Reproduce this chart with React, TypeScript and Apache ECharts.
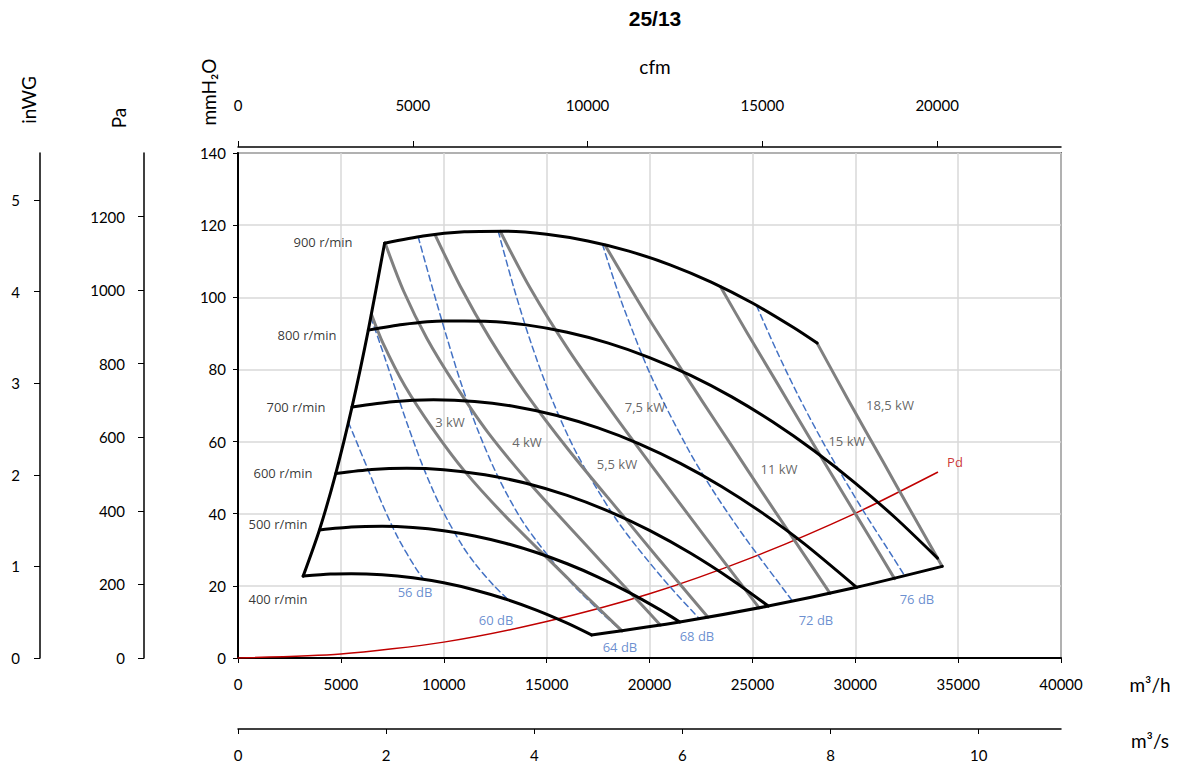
import React, { useEffect, useRef } from "react";
import * as echarts from "echarts";

// ---- unit conversions (axis extents) ----
const Q_MAX = 40000; // m3/h
const P_MAX = 140; // mmH2O
const M3H_PER_CFM = 1.699;
const PA_PER_MMH2O = 9.80665;
const MMH2O_PER_INWG = 25.4;

// ---- tick values ----
const qTicks = [0, 5000, 10000, 15000, 20000, 25000, 30000, 35000, 40000];
const cfmTicks = [0, 5000, 10000, 15000, 20000];
const m3sTicks = [0, 2, 4, 6, 8, 10];
const paTicks = [0, 200, 400, 600, 800, 1000, 1200];
const inwgTicks = [0, 1, 2, 3, 4, 5];

// ---- fan speed curves [m3/h, mmH2O] ----
const n900 = [[7125, 115.0], [9000, 117.0], [11000, 118.14], [13000, 118.29], [15000, 117.45], [17000, 115.6], [19000, 112.8], [21000, 109.0], [23000, 104.2], [25000, 98.4], [27000, 91.6], [28146, 87.3]];
const n800 = [[6333, 90.9], [8000, 92.45], [10000, 93.4], [12000, 93.37], [14000, 92.35], [16000, 90.3], [18000, 87.3], [20000, 83.3], [22000, 78.35], [24000, 72.4], [26000, 65.4], [28000, 57.45], [30000, 48.5], [32000, 38.6], [33996, 27.7]];
const n700 = [[5542, 69.6], [7500, 71.06], [9500, 71.59], [11500, 71.13], [13500, 69.68], [15500, 67.23], [17500, 63.8], [19500, 59.38], [21500, 53.96], [23500, 47.56], [25500, 40.16], [27500, 31.78], [30065, 19.6]];
const n600 = [[4750, 51.13], [6500, 52.24], [8200, 52.6], [10000, 52.2], [12000, 50.8], [14000, 48.44], [16000, 45.07], [18000, 40.71], [20000, 35.36], [22000, 29.02], [24000, 21.7], [25770, 14.4]];
const n500 = [[3958, 35.5], [5500, 36.31], [7000, 36.53], [8500, 36.19], [10000, 35.29], [11500, 33.83], [13000, 31.82], [14500, 29.25], [16000, 26.13], [17500, 22.44], [19000, 18.2], [20500, 13.41], [21475, 10.0]];
const n400 = [[3167, 22.7], [4500, 23.26], [5500, 23.38], [7000, 23.09], [8500, 22.24], [10000, 20.84], [11500, 18.87], [13000, 16.35], [14500, 13.28], [16000, 9.65], [17180, 6.4]];
const leftBoundary = [[3167, 22.7], [3958, 35.5], [4750, 51.13], [5542, 69.6], [6333, 90.9], [7125, 115.0]];
const bottomBoundary = [[17180, 6.4], [21475, 10.0], [25770, 14.4], [30065, 19.6], [34228, 25.4]];

// ---- power lines (kW) ----
const kw3 = [[6484, 95.3], [7046, 87.3], [8113, 75.4], [9460, 63.6], [11041, 51.6], [13132, 38.5], [15886, 22.9], [16704, 18.3], [17611, 13.3], [18663, 7.5]];
const kw4 = [[7145, 115.1], [8058, 101.6], [9183, 88.6], [10559, 75.7], [12163, 62.4], [14228, 48.1], [16901, 31.4], [18489, 21.6], [19596, 14.9], [20533, 9.1]];
const kw55 = [[9574, 117.4], [10808, 103.0], [12241, 88.6], [13967, 73.6], [16110, 57.4], [18817, 38.7], [20394, 27.8], [21477, 20.5], [22843, 11.3]];
const kw75 = [[12744, 118.3], [14235, 102.2], [16089, 85.2], [18362, 66.8], [21129, 45.5], [22736, 33.3], [24611, 19.3], [25327, 13.9]];
const kw11 = [[17836, 114.5], [19957, 94.2], [22528, 71.5], [23999, 58.8], [25590, 45.0], [27413, 29.5], [28775, 17.9]];
const kw15 = [[23445, 103.0], [24749, 90.1], [26205, 76.2], [27736, 61.5], [29462, 45.1], [30603, 34.4], [31908, 22.0]];
const kw185 = [[28146, 87.3], [29673, 71.4], [31381, 54.1], [32505, 42.7], [33996, 27.7], [34228, 25.4]];

// ---- sound lines (dB) ----
const db56 = [[5366, 65.3], [5595, 62.2], [6321, 52.2], [7017, 42.6], [7758, 33.5], [8660, 24.7], [9031, 21.8]];
const db60 = [[6455, 94.4], [6901, 87.2], [7617, 75.1], [8307, 63.6], [9031, 52.5], [9850, 41.9], [10875, 31.4], [11541, 26.0], [12396, 20.3], [13146, 16.1]];
const db64 = [[8756, 116.8], [9450, 102.6], [10149, 88.9], [10874, 75.6], [11682, 62.8], [12641, 50.2], [13900, 37.3], [15845, 23.0], [17429, 13.8], [18650, 7.5]];
const db68 = [[12649, 118.3], [13408, 102.6], [14244, 87.3], [15222, 72.2], [16453, 56.8], [18164, 40.3], [19371, 30.9], [21017, 19.6], [22425, 10.9]];
const db72 = [[17713, 114.7], [18225, 105.6], [18784, 96.5], [20106, 77.8], [21885, 57.8], [23075, 46.5], [24612, 33.6], [26775, 17.1], [26961, 15.7]];
const db76 = [[25202, 97.7], [26160, 85.4], [27279, 72.2], [28648, 57.6], [30414, 40.6], [31815, 28.1], [32411, 22.7]];

// ---- dynamic pressure ----
const pd = [[0, 0], [5000, 1.1], [10000, 4.4], [15000, 10.1], [20000, 17.8], [25000, 27.9], [30000, 40.1], [34000, 51.5]];

// ---- labels ----
const speedNames = ["900 r/min", "800 r/min", "700 r/min", "600 r/min", "500 r/min", "400 r/min"];
const speedLabelAt = [[4131, 115.3], [3353, 89.5], [2819, 69.6], [2187, 51.3], [1944, 37.1], [1944, 16.4]];
const kwNames = ["3 kW", "4 kW", "5,5 kW", "7,5 kW", "11 kW", "15 kW", "18,5 kW"];
const kwLabelAt = [[10303, 65.4], [14045, 59.9], [18419, 53.8], [19780, 69.6], [26293, 52.4], [29597, 60.2], [31687, 70.1]];
const dbNames = ["56 dB", "60 dB", "64 dB", "68 dB", "72 dB", "76 dB"];
const dbLabelAt = [[8602, 18.3], [12539, 10.5], [18565, 3.0], [22307, 6.1], [28091, 10.5], [33000, 16.4]];
const pdName = "Pd";
const pdLabelAt = [34846, 54.3];

const BLACK = "#000000";
const GRAY = "#808080";
const BLUE = "#4472C4";
const RED = "#C00000";
const LABEL_FONT = "'Open Sans', 'Noto Sans', sans-serif";
const AXIS_FONT = "Lato, 'Liberation Sans', sans-serif";

function curve(data: number[][], color: string, width: number, z: number, dashed = false, smooth = 0.25) {
  return {
    type: "line",
    data,
    xAxisIndex: 0,
    yAxisIndex: 0,
    showSymbol: false,
    symbol: "none",
    smooth,
    silent: true,
    z,
    lineStyle: { color, width, type: dashed ? [6, 4] : "solid", cap: "round", join: "round" },
  };
}

function labels(names: string[], at: number[][], color: string) {
  return {
    type: "scatter",
    xAxisIndex: 0,
    yAxisIndex: 0,
    symbolSize: 0,
    silent: true,
    z: 10,
    data: names.map((n, i) => ({ name: n, value: at[i] })),
    label: {
      show: true,
      position: "inside",
      formatter: (p: any) => p.name,
      color,
      fontSize: 13,
      fontFamily: LABEL_FONT,
    },
  };
}

const plain = (v: number) => String(v);

export default function App() {
  const ref = useRef<HTMLDivElement>(null);
  useEffect(() => {
    const chart = echarts.init(ref.current!, null, { renderer: "svg" });
    const tickLabel = { color: "#000", fontSize: 15, fontFamily: AXIS_FONT, formatter: plain };
    const option: any = {
      animation: false,
      backgroundColor: "#fff",
      grid: { left: 238, top: 153, width: 823, height: 505, show: true, borderColor: "#000", borderWidth: 1.5 },
      xAxis: [
        {
          type: "value", position: "bottom", min: 0, max: Q_MAX, interval: 5000,
          axisLine: { show: true, onZero: false, lineStyle: { color: "#000", width: 2 } },
          axisTick: { show: true, length: 5, lineStyle: { color: "#000" } },
          axisLabel: { ...tickLabel, margin: 18, customValues: qTicks },
          splitLine: { show: true, lineStyle: { color: "#D9D9D9", width: 1.5 } },
        },
        {
          type: "value", position: "top", offset: 6, min: 0, max: Q_MAX / M3H_PER_CFM, interval: 5000,
          axisLine: { show: true, onZero: false, lineStyle: { color: "#000", width: 1.5 } },
          axisTick: { show: true, length: 6, lineStyle: { color: "#000" }, customValues: cfmTicks },
          axisLabel: { ...tickLabel, margin: 35, customValues: cfmTicks },
          splitLine: { show: false },
        },
        {
          type: "value", position: "bottom", offset: 71, min: 0, max: Q_MAX / 3600, interval: 2,
          axisLine: { show: true, onZero: false, lineStyle: { color: "#000", width: 1.5 } },
          axisTick: { show: true, length: 5, lineStyle: { color: "#000" }, customValues: m3sTicks },
          axisLabel: { ...tickLabel, margin: 18, customValues: m3sTicks },
          splitLine: { show: false },
        },
      ],
      yAxis: [
        {
          type: "value", position: "left", min: 0, max: P_MAX, interval: 20,
          axisLine: { show: true, onZero: false, lineStyle: { color: "#000", width: 2 } },
          axisTick: { show: true, length: 5, lineStyle: { color: "#000" } },
          axisLabel: { ...tickLabel, margin: 12 },
          splitLine: { show: true, lineStyle: { color: "#D9D9D9", width: 1.5 } },
        },
        {
          type: "value", position: "left", offset: 94, min: 0, max: P_MAX * PA_PER_MMH2O, interval: 200,
          axisLine: { show: true, onZero: false, lineStyle: { color: "#000", width: 1.5 } },
          axisTick: { show: true, length: 6, lineStyle: { color: "#000" }, customValues: paTicks },
          axisLabel: { ...tickLabel, margin: 19, customValues: paTicks },
          splitLine: { show: false },
        },
        {
          type: "value", position: "left", offset: 198, min: 0, max: P_MAX / MMH2O_PER_INWG, interval: 1,
          axisLine: { show: true, onZero: false, lineStyle: { color: "#000", width: 1.5 } },
          axisTick: { show: true, length: 6, lineStyle: { color: "#000" }, customValues: inwgTicks },
          axisLabel: { ...tickLabel, margin: 20, customValues: inwgTicks },
          splitLine: { show: false },
        },
      ],
      graphic: [
        { type: "text", x: 655, y: 18, style: { text: "25/13", font: "bold 21px 'Liberation Sans', Arial, sans-serif", fill: "#000", align: "center", verticalAlign: "middle" } },
        { type: "text", x: 655, y: 66, style: { text: "cfm", font: "19px " + AXIS_FONT, fill: "#000", align: "center", verticalAlign: "middle" } },
        { type: "text", x: 1150, y: 684, style: { text: "m³/h", font: "19px " + AXIS_FONT, fill: "#000", align: "center", verticalAlign: "middle" } },
        { type: "text", x: 1150, y: 740, style: { text: "m³/s", font: "19px " + AXIS_FONT, fill: "#000", align: "center", verticalAlign: "middle" } },
        { type: "text", x: 28, y: 100, rotation: Math.PI / 2, style: { text: "inWG", font: "19px " + AXIS_FONT, fill: "#000", align: "center", verticalAlign: "middle" } },
        { type: "text", x: 118, y: 118, rotation: Math.PI / 2, style: { text: "Pa", font: "19px " + AXIS_FONT, fill: "#000", align: "center", verticalAlign: "middle" } },
        { type: "text", x: 208, y: 92, rotation: Math.PI / 2, style: { text: "mmH₂O", font: "19px " + AXIS_FONT, fill: "#000", align: "center", verticalAlign: "middle" } },
      ],
      series: [
        curve(pd, RED, 1.5, 2),
        curve(db56, BLUE, 1.5, 3, true, 0.3),
        curve(db60, BLUE, 1.5, 3, true, 0.3),
        curve(db64, BLUE, 1.5, 3, true, 0.3),
        curve(db68, BLUE, 1.5, 3, true, 0.3),
        curve(db72, BLUE, 1.5, 3, true, 0.3),
        curve(db76, BLUE, 1.5, 3, true, 0.3),
        curve(kw3, GRAY, 3, 4, false, 0.3),
        curve(kw4, GRAY, 3, 4, false, 0.3),
        curve(kw55, GRAY, 3, 4, false, 0.3),
        curve(kw75, GRAY, 3, 4, false, 0.3),
        curve(kw11, GRAY, 3, 4, false, 0.3),
        curve(kw15, GRAY, 3, 4, false, 0.3),
        curve(kw185, GRAY, 3, 4, false, 0.3),
        curve(n900, BLACK, 3, 5),
        curve(n800, BLACK, 3, 5),
        curve(n700, BLACK, 3, 5),
        curve(n600, BLACK, 3, 5),
        curve(n500, BLACK, 3, 5),
        curve(n400, BLACK, 3, 5),
        curve(leftBoundary, BLACK, 3, 5),
        curve(bottomBoundary, BLACK, 3, 5),
        labels(speedNames, speedLabelAt, "#000"),
        labels(kwNames, kwLabelAt, "#404040"),
        labels(dbNames, dbLabelAt, BLUE),
        labels([pdName], [pdLabelAt], RED),
      ],
    };
    chart.setOption(option);
    return () => chart.dispose();
  }, []);
  return <div ref={ref} style={{ position: "absolute", left: 0, top: 0, width: 1184, height: 766 }} />;
}
